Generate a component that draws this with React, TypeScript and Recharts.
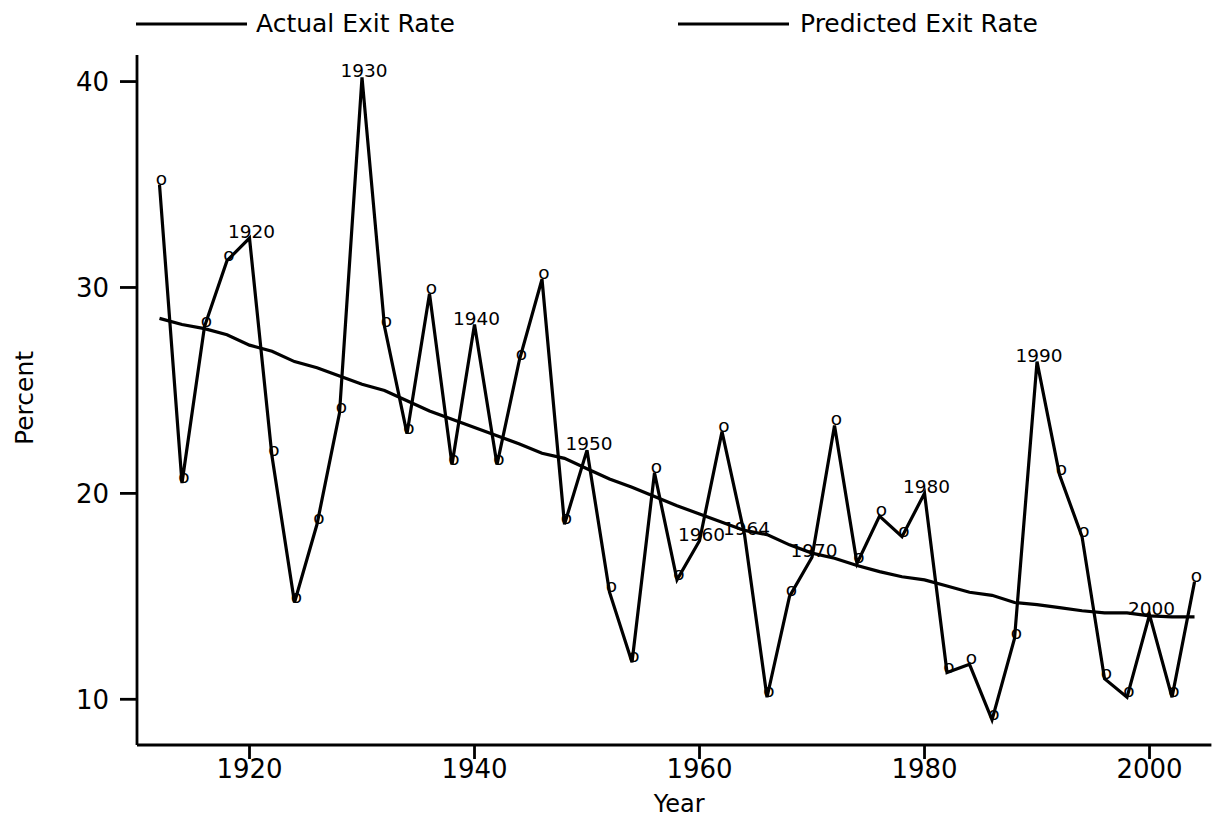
import { LineChart, Line, XAxis, YAxis } from "recharts";

const years = [
  1912, 1914, 1916, 1918, 1920, 1922, 1924, 1926, 1928, 1930, 1932, 1934,
  1936, 1938, 1940, 1942, 1944, 1946, 1948, 1950, 1952, 1954, 1956, 1958,
  1960, 1962, 1964, 1966, 1968, 1970, 1972, 1974, 1976, 1978, 1980, 1982,
  1984, 1986, 1988, 1990, 1992, 1994, 1996, 1998, 2000, 2002, 2004,
];

const actualRate = [
  35.0, 20.5, 28.1, 31.3, 32.4, 21.8, 14.7, 18.5, 23.9, 40.2, 28.1, 22.9,
  29.7, 21.4, 28.2, 21.4, 26.5, 30.4, 18.5, 22.1, 15.2, 11.8, 21.0, 15.8,
  17.7, 23.0, 18.0, 10.1, 15.0, 16.9, 23.3, 16.6, 18.9, 17.9, 20.0, 11.3,
  11.7, 9.0, 12.95, 26.4, 20.9, 17.9, 11.0, 10.1, 14.1, 10.1, 15.7,
];

const predictedRate = [
  28.5, 28.2, 28.0, 27.7, 27.2, 26.9, 26.4, 26.1, 25.7, 25.3, 25.0, 24.5,
  24.0, 23.6, 23.2, 22.8, 22.4, 21.95, 21.7, 21.2, 20.7, 20.3, 19.85, 19.4,
  19.0, 18.6, 18.2, 18.0, 17.5, 17.1, 16.85, 16.5, 16.2, 15.95, 15.8, 15.5,
  15.2, 15.05, 14.7, 14.6, 14.45, 14.3, 14.2, 14.2, 14.05, 14.0, 14.0,
];

// years that carry their own label instead of the "o" marker
const labeledYears = [1920, 1930, 1940, 1950, 1960, 1964, 1970, 1980, 1990, 2000];

const xTicks = [1920, 1940, 1960, 1980, 2000];
const yTicks = [10, 20, 30, 40];
const legendLabels = ["Actual Exit Rate", "Predicted Exit Rate"];

const FONT = '"DejaVu Sans", Verdana, sans-serif';

const data = years.map((year, i) => ({
  year,
  actual: actualRate[i],
  predicted: predictedRate[i],
  tag: labeledYears.includes(year) ? String(year) : "o",
}));

const PointTag = (props: any) => {
  const { cx, cy, payload, index } = props;
  if (cx == null || cy == null) return <g key={`tag-${index}`} />;
  return (
    <text
      key={`tag-${index}`}
      x={cx + 2}
      y={cy}
      textAnchor="middle"
      fontSize={18.5}
      fontFamily={FONT}
      fill="#000"
    >
      {payload.tag}
    </text>
  );
};

const PercentLabel = (props: any) => {
  const vb = props.viewBox || { y: 55, height: 690 };
  const cy = vb.y + vb.height / 2 - 2;
  return (
    <text
      x={33}
      y={cy}
      transform={`rotate(-90, 33, ${cy})`}
      textAnchor="middle"
      fontSize={25}
      fontFamily={FONT}
      fill="#000"
    >
      Percent
    </text>
  );
};

const legendPos = [
  { x1: 136, x2: 247, tx: 256 },
  { x1: 678, x2: 789, tx: 800 },
];

function ChartLegend() {
  return (
    <svg
      width={1215}
      height={50}
      style={{ position: "absolute", left: 0, top: 0, pointerEvents: "none" }}
    >
      {legendLabels.map((label, i) => (
        <g key={label}>
          <line
            x1={legendPos[i].x1}
            x2={legendPos[i].x2}
            y1={24}
            y2={24}
            stroke="#000"
            strokeWidth={3.2}
          />
          <text
            x={legendPos[i].tx}
            y={32}
            fontSize={25}
            fontFamily={FONT}
            fill="#000"
          >
            {label}
          </text>
        </g>
      ))}
    </svg>
  );
}

export default function App() {
  const axisStroke = { stroke: "#000", strokeWidth: 2.8 };
  const tickStyle = { fill: "#000", fontSize: 26, fontFamily: FONT };

  return (
    <div
      style={{
        position: "absolute",
        left: 0,
        top: 0,
        width: 1215,
        height: 821,
        background: "#fff",
      }}
    >
      <LineChart
        width={1215}
        height={821}
        data={data}
        margin={{ top: 55, right: 3.6, bottom: 0, left: 0 }}
      >
        <XAxis
          type="number"
          dataKey="year"
          domain={[1910, 2005.5]}
          ticks={xTicks}
          allowDataOverflow
          height={76}
          tickSize={14}
          tickMargin={1}
          axisLine={axisStroke}
          tickLine={axisStroke}
          tick={tickStyle}
          label={{
            value: "Year",
            position: "insideBottom",
            offset: 9,
            dx: 5,
            fill: "#000",
            fontSize: 24,
            fontFamily: FONT,
          }}
        />
        <YAxis
          type="number"
          domain={[7.78, 41.29]}
          ticks={yTicks}
          allowDataOverflow
          width={137}
          tickSize={17}
          tickMargin={11}
          axisLine={axisStroke}
          tickLine={axisStroke}
          tick={tickStyle}
          label={{ content: PercentLabel }}
        />
        <Line
          type="linear"
          dataKey="predicted"
          stroke="#000"
          strokeWidth={3.2}
          dot={false}
          activeDot={false}
          isAnimationActive={false}
        />
        <Line
          type="linear"
          dataKey="actual"
          stroke="#000"
          strokeWidth={3.2}
          dot={PointTag}
          activeDot={false}
          isAnimationActive={false}
        />
      </LineChart>
      <ChartLegend />
    </div>
  );
}
